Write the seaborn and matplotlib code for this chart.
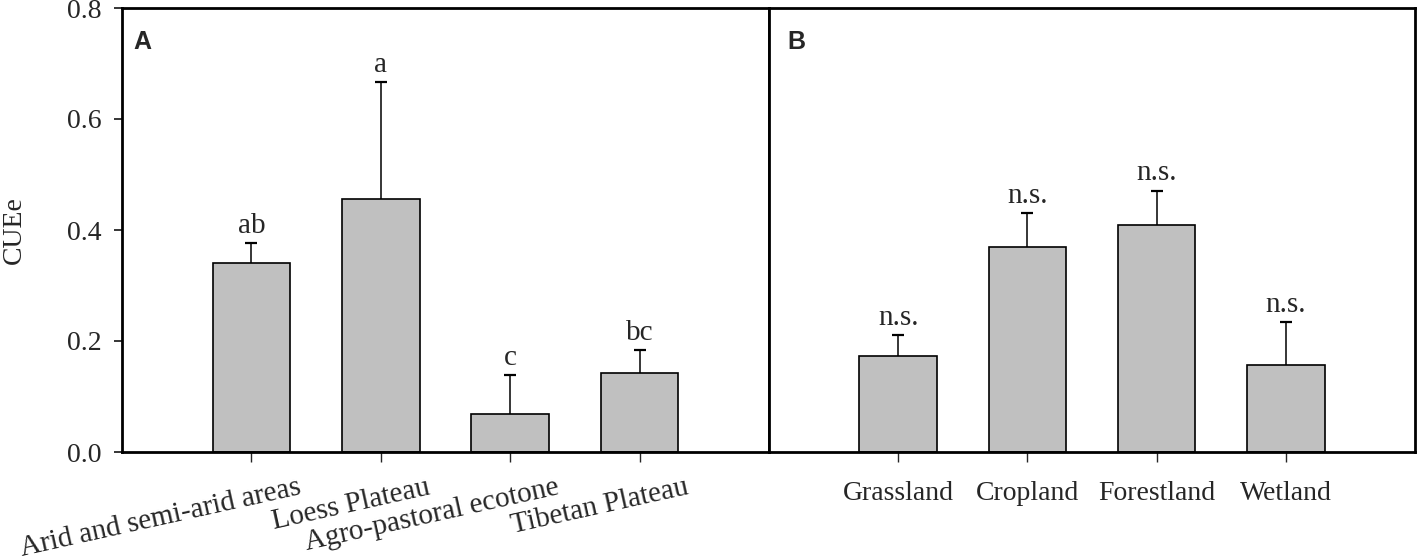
import matplotlib
matplotlib.use("Agg")
import matplotlib.pyplot as plt
import matplotlib.transforms as mtransforms
import seaborn as sns
import pandas as pd
import numpy as np

# ---- data ----
regions = ["Arid and semi-arid areas", "Loess Plateau", "Agro-pastoral ecotone", "Tibetan Plateau"]
region_cue = [0.341, 0.455, 0.069, 0.143]
region_err = [0.036, 0.211, 0.069, 0.040]
region_sig = ["ab", "a", "c", "bc"]

landuses = ["Grassland", "Cropland", "Forestland", "Wetland"]
landuse_cue = [0.173, 0.369, 0.409, 0.156]
landuse_err = [0.038, 0.061, 0.062, 0.078]
landuse_sig = ["n.s.", "n.s.", "n.s.", "n.s."]

yticks = [0.0, 0.2, 0.4, 0.6, 0.8]
ytick_labels = ["0.0", "0.2", "0.4", "0.6", "0.8"]

sns.set_theme(style="white")
plt.rcParams["font.family"] = ["Liberation Serif", "DejaVu Serif"]

fig = plt.figure(figsize=(14.17, 5.6), dpi=100)
axA = fig.add_axes([122 / 1417, 1 - 452 / 560, (769 - 122) / 1417, 444 / 560])
axB = fig.add_axes([769 / 1417, 1 - 452 / 560, (1415 - 769) / 1417, 444 / 560], sharey=axA)

bar_color = "#c0c0c0"
fs = 20


def draw(ax, cats, vals, errs, sigs):
    df = pd.DataFrame({"cat": cats, "val": vals})
    sns.barplot(data=df, x="cat", y="val", ax=ax, color=bar_color, width=0.6,
                edgecolor="black", linewidth=1.2, errorbar=None, saturation=1)
    x = np.arange(len(cats))
    _, caps, _ = ax.errorbar(x, vals, yerr=[np.zeros(len(vals)), errs], fmt="none",
                             ecolor="black", elinewidth=1.1, capsize=4.5, capthick=1.6,
                             zorder=3)
    # hide the cap at the bar top (only the upper whisker is shown)
    if len(caps) == 2:
        caps[0].set_visible(False)
    for xi, v, e, s in zip(x, vals, errs, sigs):
        ax.annotate(s, (xi, v + e), xytext=(0, 3), textcoords="offset points",
                    ha="center", va="bottom", fontsize=21)
    ax.set_xlim(-1, 4)
    ax.set_xlabel("")
    ax.set_ylabel("")
    for sp in ax.spines.values():
        sp.set_visible(True)
        sp.set_color("black")
        sp.set_linewidth(2.0)


draw(axA, regions, region_cue, region_err, region_sig)
draw(axB, landuses, landuse_cue, landuse_err, landuse_sig)

axA.set_ylim(0, 0.8)
axA.set_yticks(yticks)
axA.set_yticklabels(ytick_labels, fontsize=fs)
axA.tick_params(axis="y", left=True, direction="out", length=6, width=1.3, pad=9)
axA.tick_params(axis="x", bottom=True, direction="out", length=7, width=1.0, pad=2)
axB.tick_params(axis="y", left=False, labelleft=False)
axB.tick_params(axis="x", bottom=True, direction="out", length=7, width=1.0, pad=14)

axA.set_xticks(range(len(regions)))
axA.set_xticklabels(regions, fontsize=21, rotation=12.5, ha="right",
                    rotation_mode="anchor", va="top")
offset = mtransforms.ScaledTranslation(0.46, -0.1, fig.dpi_scale_trans)
for lab in axA.get_xticklabels():
    lab.set_transform(lab.get_transform() + offset)

axB.set_xticks(range(len(landuses)))
axB.set_xticklabels(landuses, fontsize=fs)

axA.text(0.017, 0.95, "A", transform=axA.transAxes, fontsize=18, fontweight="bold",
         family=["Liberation Sans", "DejaVu Sans"], ha="left", va="top")
axB.text(0.028, 0.95, "B", transform=axB.transAxes, fontsize=18, fontweight="bold",
         family=["Liberation Sans", "DejaVu Sans"], ha="left", va="top")

fig.text(14 / 1417, 1 - 230 / 560, "CUEe", rotation=90, ha="center", va="center", fontsize=fs)

fig.savefig("out.png", dpi=100)
